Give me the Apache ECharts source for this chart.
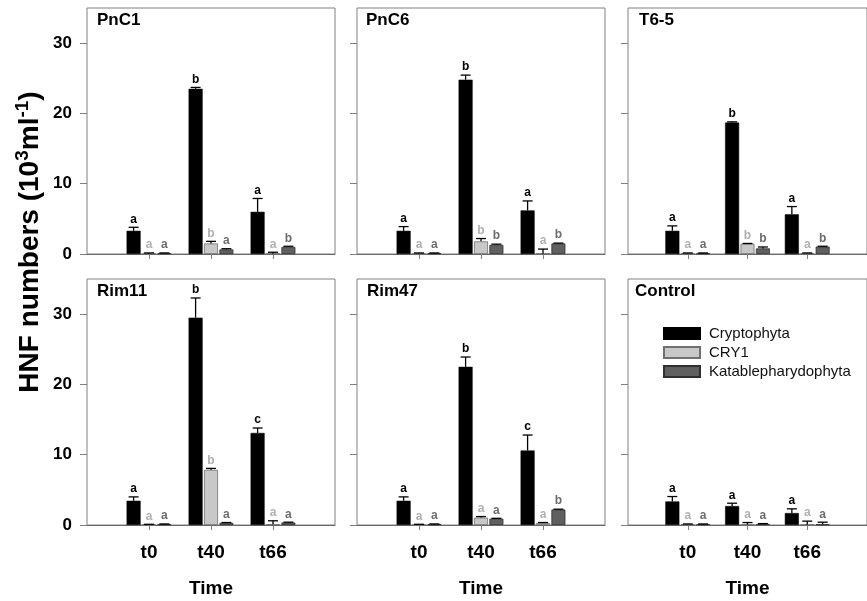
<!DOCTYPE html>
<html>
<head>
<meta charset="utf-8">
<script src="https://cdn.jsdelivr.net/npm/echarts@6/dist/echarts.min.js"></script>
<style>
  html, body { margin: 0; padding: 0; background: #fff; }
  #chart { width: 867px; height: 601px; }
</style>
</head>
<body>
<div id="chart"></div>
<script>
// Sampling times and panels (treatments)
const timePoints = ['t0', 't40', 't66'];
const panelNames = ['PnC1', 'PnC6', 'T6-5', 'Rim11', 'Rim47', 'Control'];
const groupNames = ['Cryptophyta', 'CRY1', 'Katablepharydophyta'];
const yTicks = [0, 10, 20, 30];

// HNF abundance (10^3 ml^-1); one row per panel, one value per time point
const cryptophytaMean = [
  [3.3, 23.5, 6.0],
  [3.3, 24.8, 6.2],
  [3.3, 18.7, 5.65],
  [3.45, 29.5, 13.1],
  [3.45, 22.5, 10.6],
  [3.35, 2.7, 1.7]
];
const cryptophytaErr = [
  [0.5, 0.2, 1.9],
  [0.6, 0.65, 1.35],
  [0.7, 0.1, 1.1],
  [0.55, 2.8, 0.7],
  [0.55, 1.4, 2.2],
  [0.7, 0.4, 0.6]
];
const cryptophytaLetters = [
  ['a', 'b', 'a'], ['a', 'b', 'a'], ['a', 'b', 'a'],
  ['a', 'b', 'c'], ['a', 'b', 'c'], ['a', 'a', 'a']
];

const cry1Mean = [
  [0.05, 1.5, 0.05],
  [0.05, 1.8, 0.05],
  [0.1, 1.45, 0.1],
  [0.05, 7.85, 0.1],
  [0.05, 1.05, 0.3],
  [0.1, 0.05, 0.05]
];
const cry1Err = [
  [0.1, 0.3, 0.2],
  [0.1, 0.4, 0.65],
  [0.05, 0.05, 0.05],
  [0.05, 0.2, 0.5],
  [0.05, 0.15, 0.05],
  [0.05, 0.3, 0.5]
];
const cry1Letters = [
  ['a', 'b', 'a'], ['a', 'b', 'a'], ['a', 'b', 'a'],
  ['a', 'b', 'a'], ['a', 'a', 'a'], ['a', 'a', 'a']
];

const katablepharidMean = [
  [0.1, 0.65, 1.0],
  [0.1, 1.3, 1.5],
  [0.1, 0.8, 1.05],
  [0.1, 0.3, 0.35],
  [0.1, 0.9, 2.2],
  [0.1, 0.15, 0.1]
];
const katablepharidErr = [
  [0.05, 0.1, 0.1],
  [0.05, 0.1, 0.05],
  [0.05, 0.2, 0.05],
  [0.05, 0.05, 0.05],
  [0.05, 0.05, 0.05],
  [0.05, 0.05, 0.3]
];
const katablepharidLetters = [
  ['a', 'a', 'b'], ['a', 'b', 'b'], ['a', 'b', 'b'],
  ['a', 'a', 'a'], ['a', 'a', 'b'], ['a', 'a', 'a']
];

// ---- layout and styling ----
const FONT = '"Liberation Sans", Arial, Helvetica, sans-serif';
const colLeft = [87, 357, 628];
const rowTop = [8, 279];
const panelW = 248, panelH = 246;
const titlePos = [[97, 12], [366, 12], [639, 12], [97, 283], [367, 283], [635, 283]];
const barW = 14, barGapRatio = 0.1;
const barOffsets = [-barW * (1 + barGapRatio), 0, barW * (1 + barGapRatio)];
const barStyles = [
  { color: '#000000', borderColor: '#000000', borderWidth: 0.5 },
  { color: '#c8c8c8', borderColor: '#707070', borderWidth: 0.8 },
  { color: '#606060', borderColor: '#303030', borderWidth: 0.8 }
];
const letterColors = ['#000000', '#b0b0b0', '#6c6c6c'];
const axisGray = '#808080';

const means = [cryptophytaMean, cry1Mean, katablepharidMean];
const errs = [cryptophytaErr, cry1Err, katablepharidErr];
const letterSets = [cryptophytaLetters, cry1Letters, katablepharidLetters];

// padded category axis so the three time points sit at 1/4, 1/2, 3/4 of each panel
const axisCats = [''].concat(timePoints, ['']);
const isTimeTick = (idx) => idx >= 1 && idx <= timePoints.length;

function errorBarRenderer(k, letters) {
  return function (params, api) {
    const idx = api.value(0);
    const m = api.value(1);
    const e = api.value(2);
    const base = api.coord([idx, m]);
    const top = api.coord([idx, m + e]);
    const x = base[0] + barOffsets[k];
    return {
      type: 'group',
      children: [
        { type: 'line', shape: { x1: x, y1: base[1], x2: x, y2: top[1] },
          style: { stroke: '#000', lineWidth: 1.3 } },
        { type: 'line', shape: { x1: x - 5, y1: top[1], x2: x + 5, y2: top[1] },
          style: { stroke: '#000', lineWidth: 1.3 } },
        { type: 'text', x: x, y: top[1] - 2,
          style: { text: letters[params.dataIndex], fill: letterColors[k],
                   font: 'bold 12px ' + FONT, align: 'center', verticalAlign: 'bottom' } }
      ]
    };
  };
}

const grids = [], xAxes = [], yAxes = [], series = [], titles = [];

panelNames.forEach((name, p) => {
  const row = Math.floor(p / 3), col = p % 3;
  const bottomRow = row === 1, leftCol = col === 0;
  grids.push({
    left: colLeft[col], top: rowTop[row], width: panelW, height: panelH,
    show: true, borderColor: axisGray, borderWidth: 1, backgroundColor: 'transparent'
  });
  xAxes.push({
    type: 'category', gridIndex: p, data: axisCats, boundaryGap: false,
    axisLine: { show: true, lineStyle: { color: '#6a6a6a', width: 1 } },
    axisTick: { show: true, interval: isTimeTick, length: 5, lineStyle: { color: axisGray } },
    axisLabel: {
      show: bottomRow, interval: isTimeTick, margin: 18,
      fontFamily: FONT, fontSize: 19, fontWeight: 'bold', color: '#000'
    },
    name: bottomRow ? 'Time' : '', nameLocation: 'middle', nameGap: 54,
    nameTextStyle: { fontFamily: FONT, fontSize: 19, fontWeight: 'bold', color: '#000' },
    splitLine: { show: false }
  });
  yAxes.push({
    type: 'value', gridIndex: p, min: 0, max: 35, interval: 10,
    axisLine: { show: false },
    axisTick: { show: true, length: 7, customValues: yTicks, lineStyle: { color: axisGray } },
    axisLabel: {
      show: leftCol, customValues: yTicks, margin: 15,
      fontFamily: FONT, fontSize: 17, fontWeight: 'bold', color: '#000'
    },
    splitLine: { show: false }
  });
  titles.push({
    text: name, left: titlePos[p][0], top: titlePos[p][1], padding: 0,
    textStyle: { fontFamily: FONT, fontSize: 17, fontWeight: 'bold', color: '#000' }
  });

  groupNames.forEach((g, k) => {
    series.push({
      type: 'bar', name: g, xAxisIndex: p, yAxisIndex: p,
      data: [null].concat(means[k][p], [null]),
      barWidth: barW, barGap: (barGapRatio * 100) + '%',
      itemStyle: barStyles[k], silent: true
    });
  });
  groupNames.forEach((g, k) => {
    series.push({
      type: 'custom', xAxisIndex: p, yAxisIndex: p, z: 5, silent: true,
      renderItem: errorBarRenderer(k, letterSets[k][p]),
      data: timePoints.map((t, j) => [j + 1, means[k][p][j], errs[k][p][j]])
    });
  });
});

const chart = echarts.init(document.getElementById('chart'), null, { renderer: 'canvas' });
chart.setOption({
  animation: false,
  backgroundColor: '#ffffff',
  title: titles,
  grid: grids,
  xAxis: xAxes,
  yAxis: yAxes,
  legend: {
    data: groupNames, orient: 'vertical', left: 663, top: 326, padding: 0,
    itemWidth: 36, itemHeight: 11, itemGap: 4, icon: 'rect', selectedMode: false,
    textStyle: { fontFamily: FONT, fontSize: 15, lineHeight: 14, color: '#111', padding: [0, 0, 0, 4] }
  },
  graphic: [{
    type: 'text', x: 29, y: 242, rotation: Math.PI / 2,
    style: {
      text: '{m|HNF numbers (10}{s|3}{m|ml}{s|-1}{m|)}',
      align: 'center', verticalAlign: 'middle',
      rich: {
        m: { fontFamily: FONT, fontSize: 28, fontWeight: 'bold', fill: '#000', lineHeight: 31, verticalAlign: 'bottom' },
        s: { fontFamily: FONT, fontSize: 19, fontWeight: 'bold', fill: '#000', lineHeight: 31, verticalAlign: 'top' }
      }
    }
  }],
  series: series
});
</script>
</body>
</html>
